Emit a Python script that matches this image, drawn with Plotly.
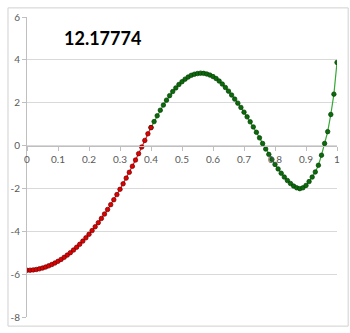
import plotly.graph_objects as go

# x positions (step 0.01)
x_red = [0.00, 0.01, 0.02, 0.03, 0.04, 0.05, 0.06, 0.07, 0.08, 0.09,
         0.10, 0.11, 0.12, 0.13, 0.14, 0.15, 0.16, 0.17, 0.18, 0.19,
         0.20, 0.21, 0.22, 0.23, 0.24, 0.25, 0.26, 0.27, 0.28, 0.29,
         0.30, 0.31, 0.32, 0.33, 0.34, 0.35, 0.36, 0.37, 0.38, 0.39, 0.40]
y_red = [-5.82, -5.816, -5.803, -5.782, -5.753, -5.715, -5.669, -5.614, -5.551, -5.480,
         -5.40, -5.312, -5.215, -5.110, -4.997, -4.875, -4.745, -4.606, -4.459, -4.304,
         -4.14, -3.968, -3.787, -3.598, -3.401, -3.195, -2.981, -2.758, -2.527, -2.288,
         -2.04, -1.784, -1.519, -1.246, -0.965, -0.675, -0.377, -0.070, 0.24, 0.55, 0.84]

x_green = [0.40, 0.41, 0.42, 0.43, 0.44, 0.45, 0.46, 0.47, 0.48, 0.49,
           0.50, 0.51, 0.52, 0.53, 0.54, 0.55, 0.56, 0.57, 0.58, 0.59,
           0.60, 0.61, 0.62, 0.63, 0.64, 0.65, 0.66, 0.67, 0.68, 0.69,
           0.70, 0.71, 0.72, 0.73, 0.74, 0.75, 0.76, 0.77, 0.78, 0.79,
           0.80, 0.81, 0.82, 0.83, 0.84, 0.85, 0.86, 0.87, 0.88, 0.89,
           0.90, 0.91, 0.92, 0.93, 0.94, 0.95, 0.96, 0.97, 0.98, 0.99, 1.00]
y_green = [0.84, 1.12, 1.39, 1.65, 1.89, 2.12, 2.33, 2.52, 2.69, 2.85,
           2.98, 3.10, 3.20, 3.28, 3.33, 3.36, 3.38, 3.37, 3.34, 3.29,
           3.22, 3.13, 3.01, 2.87, 2.71, 2.54, 2.36, 2.17, 1.98, 1.78,
           1.56, 1.34, 1.11, 0.87, 0.62, 0.36, 0.10, -0.16, -0.41, -0.65,
           -0.88, -1.09, -1.29, -1.47, -1.63, -1.77, -1.89, -1.97, -2.01, -1.97,
           -1.86, -1.68, -1.47, -1.23, -0.92, -0.45, 0.10, 0.65, 1.45, 2.40, 3.88]

title_text = "12.17774"
x_tickvals = [0, 0.1, 0.2, 0.3, 0.4, 0.5, 0.6, 0.7, 0.8, 0.9, 1]
x_ticktext = ["0", "0.1", "0.2", "0.3", "0.4", "0.5", "0.6", "0.7", "0.8", "0.9", "1"]
y_tickvals = [-8, -6, -4, -2, 0, 2, 4, 6]
y_ticktext = ["-8", "-6", "-4", "-2", "0", "2", "4", "6"]

fig = go.Figure()
fig.add_trace(go.Scatter(
    x=x_green, y=y_green, mode="lines+markers",
    line=dict(color="#33a833", width=1.2),
    marker=dict(size=4.5, color="#0b6b0b", line=dict(color="#063d06", width=0.7)),
    showlegend=False, hoverinfo="skip"))
fig.add_trace(go.Scatter(
    x=x_red, y=y_red, mode="lines+markers",
    line=dict(color="#e02020", width=1.2),
    marker=dict(size=4.5, color="#e00000", line=dict(color="#6a0000", width=0.7)),
    showlegend=False, hoverinfo="skip"))

fig.add_annotation(x=0.2425, y=5.02, xref="x", yref="y", text="<b>" + title_text + "</b>",
                   showarrow=False, font=dict(family="Lato", size=18, color="#000000"),
                   xanchor="center", yanchor="middle")

fig.update_layout(
    width=350, height=333,
    margin=dict(l=20, r=12, t=10, b=10),
    paper_bgcolor="white", plot_bgcolor="white",
    font=dict(family="Lato", size=10, color="#595959"),
    shapes=[dict(type="rect", xref="paper", yref="paper",
                 x0=-0.0613, x1=1.036, y0=-0.0304, y1=1.0304,
                 line=dict(color="#d0d0d0", width=1))],
)
fig.update_xaxes(range=[0, 1], tickvals=x_tickvals, ticktext=x_ticktext,
                 showgrid=False, zeroline=False, showline=True, linecolor="#bfbfbf",
                 linewidth=1, ticks="outside", ticklen=4, tickcolor="#bfbfbf",
                 anchor="free", position=8 / 14, tickfont=dict(size=10, color="#595959"))
fig.update_yaxes(range=[-8, 6], tickvals=y_tickvals, ticktext=y_ticktext,
                 showgrid=True, gridcolor="#d9d9d9", gridwidth=1, zeroline=False,
                 showline=True, linecolor="#bfbfbf", linewidth=1, ticks="outside",
                 ticklen=4, tickcolor="#bfbfbf", tickfont=dict(size=10, color="#595959"))

fig.write_html("out.html")
